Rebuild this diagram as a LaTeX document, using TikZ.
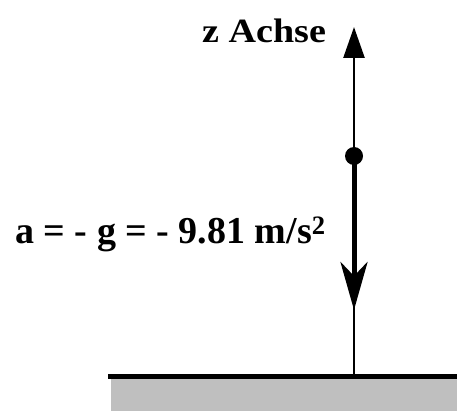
\documentclass[tikz,border=0pt]{standalone}
\usepackage{fontspec}
\setmainfont{Liberation Serif}
\newfontfamily\widefont[FakeStretch=1.12]{Liberation Serif}
\usetikzlibrary{arrows.meta}
\definecolor{groundgray}{HTML}{BFBFBF}
\begin{document}
\begin{tikzpicture}[x=1pt,y=-1pt,
  lbl/.style={inner sep=0pt, anchor=base west},
  axisline/.style={line width=2.5pt, -{Triangle[length=31pt,width=21pt]}},
  accel/.style={line width=5pt, -{Stealth[length=48pt,width=27pt,inset=14pt]}},
  groundline/.style={line width=5pt},
  dotstyle/.style={circle, fill=black, inner sep=0pt, minimum size=18pt}]
\useasboundingbox (0,0) rectangle (457,411);
\fill[groundgray] (111,378.5) rectangle (457,411);
\coordinate (gl) at (108,376);
\coordinate (gr) at (457,376);
\coordinate (base) at (354,376);
\coordinate (top) at (354,27);
\coordinate (atip) at (354,310);
\draw[groundline] (gl) -- (gr);
\draw[axisline] (base) -- (top);
\node[dotstyle] (m) at (354,156) {};
\draw[accel] (m.center) -- (atip);
\node[lbl, font=\widefont\bfseries\fontsize{34}{38}\selectfont] (zlabel) at (202,43) {z Achse};
\node[lbl, font=\bfseries\fontsize{38}{42}\selectfont] (alabel) at (15,244) {a = - g = - 9.81 m/s\textsuperscript{2}};
\end{tikzpicture}
\end{document}
